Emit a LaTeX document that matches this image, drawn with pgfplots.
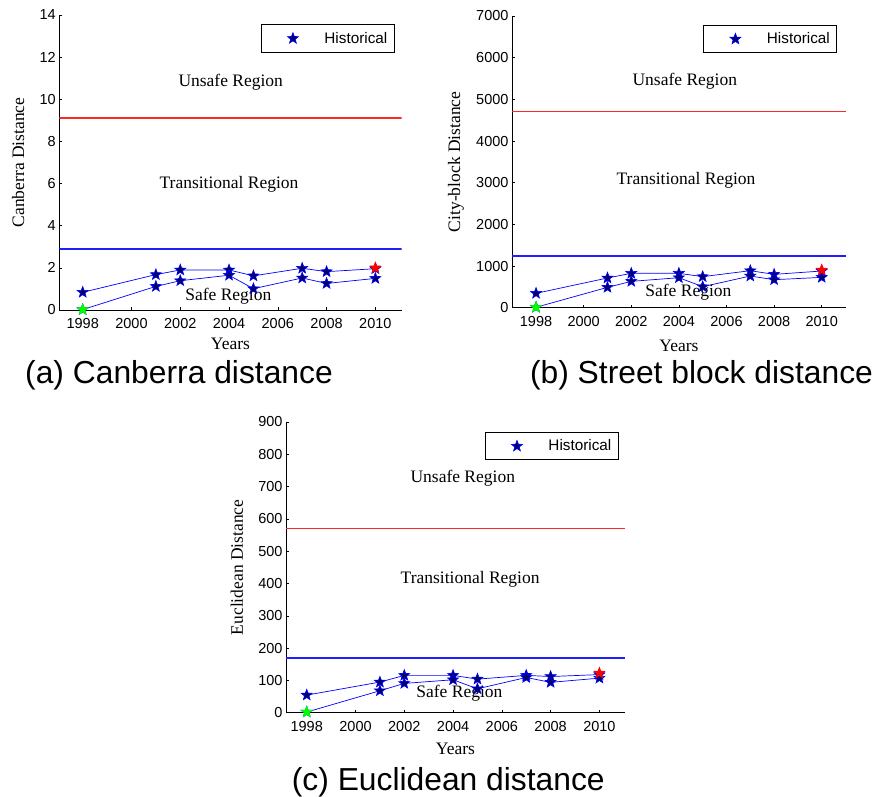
\documentclass[border=0pt]{standalone}
\usepackage{pgfplots}
\pgfplotsset{compat=1.18}
\usepackage{fontspec}
\setmainfont{Liberation Serif}
\newfontfamily\arial{Liberation Sans}
\definecolor{thrred}{RGB}{255,40,40}
\definecolor{thrblue}{RGB}{30,30,255}
\definecolor{serblue}{RGB}{0,0,255}
\definecolor{starfill}{RGB}{0,0,110}
\tikzset{reg/.style={font=\fontsize{17.5}{20}\selectfont, anchor=center}}
\pgfdeclareplotmark{pent}{%
  \pgfpathmoveto{\pgfpointpolar{90}{\pgfplotmarksize}}%
  \pgfpathlineto{\pgfpointpolar{126}{0.42\pgfplotmarksize}}%
  \pgfpathlineto{\pgfpointpolar{162}{\pgfplotmarksize}}%
  \pgfpathlineto{\pgfpointpolar{198}{0.42\pgfplotmarksize}}%
  \pgfpathlineto{\pgfpointpolar{234}{\pgfplotmarksize}}%
  \pgfpathlineto{\pgfpointpolar{270}{0.42\pgfplotmarksize}}%
  \pgfpathlineto{\pgfpointpolar{306}{\pgfplotmarksize}}%
  \pgfpathlineto{\pgfpointpolar{342}{0.42\pgfplotmarksize}}%
  \pgfpathlineto{\pgfpointpolar{18}{\pgfplotmarksize}}%
  \pgfpathlineto{\pgfpointpolar{54}{0.42\pgfplotmarksize}}%
  \pgfpathclose
  \pgfusepathqfillstroke}
\begin{document}
\begin{tikzpicture}
\path[use as bounding box] (0pt,0pt) rectangle (877pt,796pt);
\pgfplotsset{
  regstyle/.style={
    scale only axis,
    axis lines*=left,
    axis line style={-, black, line width=0.6pt},
    tick align=inside, major tick length=3pt,
    tick style={black, line width=0.6pt},
    xtick={1998,2000,...,2010},
    /pgf/number format/1000 sep={},
    /pgf/number format/assume math mode=true,
    scaled y ticks=false,
    tick label style={font=\arial\fontsize{14.5}{16}\selectfont},
    xticklabel style={yshift=-5pt},
    label style={font=\fontsize{17.5}{20}\selectfont},
    xlabel={Years},
    legend style={draw=black, line width=1pt, fill=white,
      font=\arial\fontsize{15.3}{17}\selectfont,
      anchor=north east, inner xsep=5pt, inner ysep=5.5pt},
    legend image code/.code={\path (0pt,0pt) (55pt,0pt); \draw[##1] plot coordinates {(26pt,0pt)};},
  },
  ser/.style={draw=serblue, line width=0.7pt, mark=pent, mark size=5.8pt,
    mark options={draw=serblue, fill=starfill, line width=0.6pt}},
  spot/.style={only marks, mark=pent, mark size=5.8pt,
    mark options={draw=#1, fill=#1, line width=0.6pt}},
  thr/.style={color=#1, draw=#1, line width=1.5pt, mark=none, forget plot},
}
% (a) Canberra
\begin{axis}[regstyle,
  at={(59.3pt,486pt)}, anchor=south west,
  width=342.4pt, height=295pt,
  xmin=1997.04, xmax=2011.08, ymin=0, ymax=14,
  ytick={0,2,...,14},
  ylabel={Canberra Distance},
  xlabel style={at={(axis description cs:0.5,-0.115)}, anchor=center},
  ylabel style={at={(axis description cs:-0.12,0.5)}, anchor=center},
  legend style={at={(0.98,0.969)}},
]
\addlegendimage{only marks, mark=pent, mark size=5.8pt, mark options={draw=serblue, fill=starfill, line width=0.6pt}}
\addlegendentry{Historical}
\addplot[thr=thrred] coordinates {(1997.04,9.12) (2011.08,9.12)};
\addplot[thr=thrblue] coordinates {(1997.04,2.89) (2011.08,2.89)};
\addplot[ser, forget plot] coordinates {(1998,0.84) (2001,1.68) (2002,1.90) (2004,1.90) (2005,1.62) (2007,1.98) (2008,1.82) (2010,1.96)};
\addplot[ser, forget plot] coordinates {(1998,0.02) (2001,1.12) (2002,1.39) (2004,1.65) (2005,1.01) (2007,1.52) (2008,1.26) (2010,1.50)};
\addplot[spot=green, forget plot] coordinates {(1998,0.02)};
\addplot[spot=red, forget plot] coordinates {(2010,2.0)};
\node[reg] at (axis cs:2004.07,10.79) {Unsafe Region};
\node[reg] at (axis cs:2004.0,5.97) {Transitional Region};
\node[reg] at (axis cs:2003.97,0.66) {Safe Region};
\end{axis}
% (b) City-block
\begin{axis}[regstyle,
  at={(512pt,488.3pt)}, anchor=south west,
  width=334pt, height=291.7pt,
  xmin=1996.99, xmax=2011.02, ymin=0, ymax=7000,
  ytick={0,1000,...,7000},
  ylabel={City-block Distance},
  xlabel style={at={(axis description cs:0.5,-0.13)}, anchor=center},
  ylabel style={at={(axis description cs:-0.168,0.5)}, anchor=center},
  legend style={at={(0.974,0.970)}},
]
\addlegendimage{only marks, mark=pent, mark size=5.8pt, mark options={draw=serblue, fill=starfill, line width=0.6pt}}
\addlegendentry{Historical}
\addplot[thr=thrred] coordinates {(1996.99,4704) (2011.02,4704)};
\addplot[thr=thrblue] coordinates {(1996.99,1241) (2011.02,1241)};
\addplot[ser, forget plot] coordinates {(1998,345) (2001,713) (2002,825) (2004,825) (2005,745) (2007,888) (2008,800) (2010,880)};
\addplot[ser, forget plot] coordinates {(1998,10) (2001,488) (2002,632) (2004,720) (2005,504) (2007,760) (2008,672) (2010,728)};
\addplot[spot=green, forget plot] coordinates {(1998,10)};
\addplot[spot=red, forget plot] coordinates {(2010,905)};
\node[reg] at (axis cs:2004.25,5424) {Unsafe Region};
\node[reg] at (axis cs:2004.3,3065) {Transitional Region};
\node[reg] at (axis cs:2004.4,370) {Safe Region};
\end{axis}
% (c) Euclidean
\begin{axis}[regstyle,
  at={(286pt,83.3pt)}, anchor=south west,
  width=339pt, height=290.7pt,
  xmin=1997.15, xmax=2011.05, ymin=0, ymax=900,
  ytick={0,100,...,900},
  ylabel={Euclidean Distance},
  xlabel style={at={(axis description cs:0.5,-0.126)}, anchor=center},
  ylabel style={at={(axis description cs:-0.145,0.5)}, anchor=center},
  legend style={at={(0.982,0.966)}},
]
\addlegendimage{only marks, mark=pent, mark size=5.8pt, mark options={draw=serblue, fill=starfill, line width=0.6pt}}
\addlegendentry{Historical}
\addplot[thr=thrred] coordinates {(1997.15,571) (2011.05,571)};
\addplot[thr=thrblue] coordinates {(1997.15,169) (2011.05,169)};
\addplot[ser, forget plot] coordinates {(1998,54.5) (2001,94.8) (2002,115.5) (2004,115.5) (2005,104) (2007,115.5) (2008,112) (2010,118)};
\addplot[ser, forget plot] coordinates {(1998,2) (2001,68) (2002,90.7) (2004,102) (2005,74) (2007,109) (2008,94) (2010,107)};
\addplot[spot=green, forget plot] coordinates {(1998,2)};
\addplot[spot=red, forget plot] coordinates {(2010,122.6)};
\node[reg] at (axis cs:2004.4,725.7) {Unsafe Region};
\node[reg] at (axis cs:2004.7,413) {Transitional Region};
\node[reg] at (axis cs:2004.26,60) {Safe Region};
\end{axis}
\node[anchor=base, font=\arial\fontsize{31.8}{34}\selectfont] at (179pt,413pt) {(a) Canberra distance};
\node[anchor=base, font=\arial\fontsize{31.8}{34}\selectfont] at (701.5pt,413pt) {(b) Street block distance};
\node[anchor=base, font=\arial\fontsize{31.8}{34}\selectfont] at (448.3pt,6pt) {(c) Euclidean distance};
\end{tikzpicture}
\end{document}
